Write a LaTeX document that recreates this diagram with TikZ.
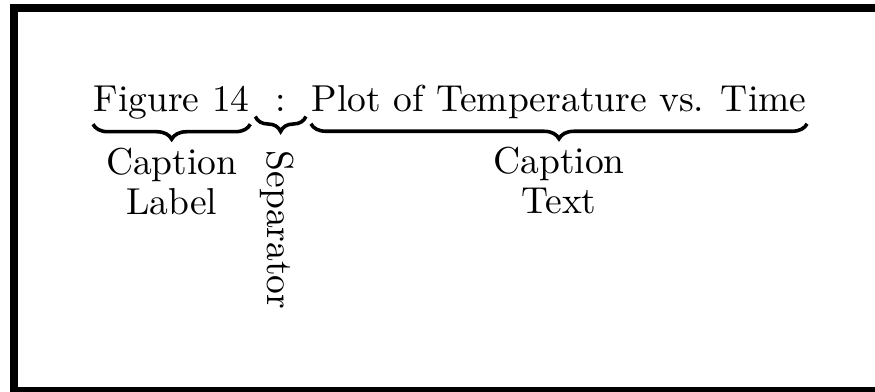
\documentclass[tikz,border=0pt]{standalone}
\usepackage{tikz}
\usetikzlibrary{positioning,decorations.pathreplacing}

\tikzset{
  word/.style={inner sep=0pt,font=\fontsize{10}{10.7}\selectfont},
  brc/.style={decorate,line width=0.95pt,
    decoration={brace,amplitude=4pt,raise=1pt}}
}

\begin{document}
\begin{tikzpicture}[x=0.2667pt,y=-0.2667pt]
  \clip (0,0) rectangle (875,392);
  % frame, partly cut off on the right and bottom
  \draw[line width=2.13pt]
  (14,8) rectangle (880,391);
  % the three parts of the caption
  \node[word,anchor=base west] (lbl) at (93,112) {Figure 14};
  \node[word,base right=1.33pt of lbl,minimum width=13.1pt] (sep) {:};
  \node[word,base right=1.33pt of sep] (txt) {Plot of Temperature vs. Time};
  \draw[brc]
  (lbl.south east) -- (lbl.south west);
  \draw[brc]
  (sep.south east) -- (sep.south west);
  \draw[brc]
  (txt.south east) -- (txt.south west);
  % what each part is called
  \node[word,align=center,below=7.1pt of lbl] (lblname) {Caption\\Label};
  \node[word,align=center,below=7.1pt of txt] (txtname) {Caption\\Text};
  \node[word,rotate=-90,anchor=base west] (sepname) at (267,150) {Separator};
\end{tikzpicture}
\end{document}
